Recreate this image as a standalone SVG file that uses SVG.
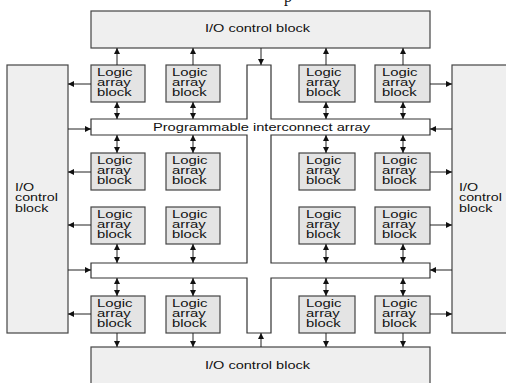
<svg xmlns="http://www.w3.org/2000/svg" width="506" height="383" viewBox="0 0 506 383">
<style>
.io{fill:#efefef;stroke:#444;stroke-width:1.2}
.lab{fill:#e4e4e4;stroke:#444;stroke-width:1.2}
.pia{fill:#ffffff;stroke:#333;stroke-width:1.2}
.t{font-family:"Liberation Sans",Arial,sans-serif;font-size:11px;fill:#111}
.c line{stroke:#222;stroke-width:1}
.one{marker-end:url(#ah)}
.two{marker-start:url(#ah);marker-end:url(#ah)}
</style>
<defs>
<marker id="ah" markerUnits="userSpaceOnUse" markerWidth="6" markerHeight="6" refX="6" refY="3" orient="auto-start-reverse">
<path d="M0,0 L6,3 L0,6 z" fill="#111"/>
</marker>
</defs>
<rect width="506" height="383" fill="#ffffff"/>
<text x="284" y="2" style="font-family:'Liberation Serif',serif;font-size:16px;fill:#111">p</text>

<g id="io-top"><rect class="io" x="91" y="11" width="339" height="37"/><text class="t" x="205" y="32" textLength="105" lengthAdjust="spacingAndGlyphs">I/O control block</text></g>
<g id="io-bottom"><rect class="io" x="91" y="347" width="339" height="45"/><text class="t" x="205" y="369" textLength="105" lengthAdjust="spacingAndGlyphs">I/O control block</text></g>
<g id="io-left"><rect class="io" x="7" y="65" width="61" height="268"/>
<text class="t" transform="translate(15,0) scale(1.3,1)"><tspan x="0" y="191">I/O</tspan><tspan x="0" y="201.5">control</tspan><tspan x="0" y="212">block</tspan></text></g>
<g id="io-right"><rect class="io" x="452" y="65" width="70" height="268"/>
<text class="t" transform="translate(459,0) scale(1.3,1)"><tspan x="0" y="191">I/O</tspan><tspan x="0" y="201.5">control</tspan><tspan x="0" y="212">block</tspan></text></g>

<g id="pia"><path class="pia" d="M247,65 H271 V119 H430 V135 H271 V263 H430 V278 H271 V333 H247 V278 H91 V263 H247 V135 H91 V119 H247 Z"/>
<text class="t" x="153" y="131" textLength="217" lengthAdjust="spacingAndGlyphs">Programmable interconnect array</text></g>

<g id="lab-1-1"><rect class="lab" x="91" y="65" width="54" height="37"/><text class="t" transform="translate(97,65) scale(1.35,1)"><tspan x="0" y="11">Logic</tspan><tspan x="0" y="21">array</tspan><tspan x="0" y="31">block</tspan></text></g>
<g id="lab-1-2"><rect class="lab" x="166" y="65" width="54" height="37"/><text class="t" transform="translate(172,65) scale(1.35,1)"><tspan x="0" y="11">Logic</tspan><tspan x="0" y="21">array</tspan><tspan x="0" y="31">block</tspan></text></g>
<g id="lab-1-3"><rect class="lab" x="299" y="65" width="56" height="37"/><text class="t" transform="translate(306,65) scale(1.35,1)"><tspan x="0" y="11">Logic</tspan><tspan x="0" y="21">array</tspan><tspan x="0" y="31">block</tspan></text></g>
<g id="lab-1-4"><rect class="lab" x="375" y="65" width="55" height="37"/><text class="t" transform="translate(382,65) scale(1.35,1)"><tspan x="0" y="11">Logic</tspan><tspan x="0" y="21">array</tspan><tspan x="0" y="31">block</tspan></text></g>

<g id="lab-2-1"><rect class="lab" x="91" y="153" width="54" height="37"/><text class="t" transform="translate(97,153) scale(1.35,1)"><tspan x="0" y="11">Logic</tspan><tspan x="0" y="21">array</tspan><tspan x="0" y="31">block</tspan></text></g>
<g id="lab-2-2"><rect class="lab" x="166" y="153" width="54" height="37"/><text class="t" transform="translate(172,153) scale(1.35,1)"><tspan x="0" y="11">Logic</tspan><tspan x="0" y="21">array</tspan><tspan x="0" y="31">block</tspan></text></g>
<g id="lab-2-3"><rect class="lab" x="299" y="153" width="56" height="37"/><text class="t" transform="translate(306,153) scale(1.35,1)"><tspan x="0" y="11">Logic</tspan><tspan x="0" y="21">array</tspan><tspan x="0" y="31">block</tspan></text></g>
<g id="lab-2-4"><rect class="lab" x="375" y="153" width="55" height="37"/><text class="t" transform="translate(382,153) scale(1.35,1)"><tspan x="0" y="11">Logic</tspan><tspan x="0" y="21">array</tspan><tspan x="0" y="31">block</tspan></text></g>

<g id="lab-3-1"><rect class="lab" x="91" y="207" width="54" height="37"/><text class="t" transform="translate(97,207) scale(1.35,1)"><tspan x="0" y="11">Logic</tspan><tspan x="0" y="21">array</tspan><tspan x="0" y="31">block</tspan></text></g>
<g id="lab-3-2"><rect class="lab" x="166" y="207" width="54" height="37"/><text class="t" transform="translate(172,207) scale(1.35,1)"><tspan x="0" y="11">Logic</tspan><tspan x="0" y="21">array</tspan><tspan x="0" y="31">block</tspan></text></g>
<g id="lab-3-3"><rect class="lab" x="299" y="207" width="56" height="37"/><text class="t" transform="translate(306,207) scale(1.35,1)"><tspan x="0" y="11">Logic</tspan><tspan x="0" y="21">array</tspan><tspan x="0" y="31">block</tspan></text></g>
<g id="lab-3-4"><rect class="lab" x="375" y="207" width="55" height="37"/><text class="t" transform="translate(382,207) scale(1.35,1)"><tspan x="0" y="11">Logic</tspan><tspan x="0" y="21">array</tspan><tspan x="0" y="31">block</tspan></text></g>

<g id="lab-4-1"><rect class="lab" x="91" y="296" width="54" height="37"/><text class="t" transform="translate(97,296) scale(1.35,1)"><tspan x="0" y="11">Logic</tspan><tspan x="0" y="21">array</tspan><tspan x="0" y="31">block</tspan></text></g>
<g id="lab-4-2"><rect class="lab" x="166" y="296" width="54" height="37"/><text class="t" transform="translate(172,296) scale(1.35,1)"><tspan x="0" y="11">Logic</tspan><tspan x="0" y="21">array</tspan><tspan x="0" y="31">block</tspan></text></g>
<g id="lab-4-3"><rect class="lab" x="299" y="296" width="56" height="37"/><text class="t" transform="translate(306,296) scale(1.35,1)"><tspan x="0" y="11">Logic</tspan><tspan x="0" y="21">array</tspan><tspan x="0" y="31">block</tspan></text></g>
<g id="lab-4-4"><rect class="lab" x="375" y="296" width="55" height="37"/><text class="t" transform="translate(382,296) scale(1.35,1)"><tspan x="0" y="11">Logic</tspan><tspan x="0" y="21">array</tspan><tspan x="0" y="31">block</tspan></text></g>

<g id="connectors" class="c">
<line class="one" x1="117" y1="65" x2="117" y2="48"/>
<line class="one" x1="193" y1="65" x2="193" y2="48"/>
<line class="one" x1="326" y1="65" x2="326" y2="48"/>
<line class="one" x1="403" y1="65" x2="403" y2="48"/>
<line class="one" x1="261" y1="48" x2="261" y2="65"/>
<line class="one" x1="261" y1="347" x2="261" y2="333"/>
<line class="two" x1="117" y1="102" x2="117" y2="119"/>
<line class="two" x1="193" y1="102" x2="193" y2="119"/>
<line class="two" x1="326" y1="102" x2="326" y2="119"/>
<line class="two" x1="403" y1="102" x2="403" y2="119"/>
<line class="two" x1="117" y1="135" x2="117" y2="153"/>
<line class="two" x1="193" y1="135" x2="193" y2="153"/>
<line class="two" x1="326" y1="135" x2="326" y2="153"/>
<line class="two" x1="403" y1="135" x2="403" y2="153"/>
<line class="two" x1="117" y1="244" x2="117" y2="263"/>
<line class="two" x1="193" y1="244" x2="193" y2="263"/>
<line class="two" x1="326" y1="244" x2="326" y2="263"/>
<line class="two" x1="403" y1="244" x2="403" y2="263"/>
<line class="two" x1="117" y1="278" x2="117" y2="296"/>
<line class="two" x1="193" y1="278" x2="193" y2="296"/>
<line class="two" x1="326" y1="278" x2="326" y2="296"/>
<line class="two" x1="403" y1="278" x2="403" y2="296"/>
<line class="one" x1="117" y1="333" x2="117" y2="347"/>
<line class="one" x1="193" y1="333" x2="193" y2="347"/>
<line class="one" x1="326" y1="333" x2="326" y2="347"/>
<line class="one" x1="403" y1="333" x2="403" y2="347"/>
<line class="one" x1="91" y1="84" x2="68" y2="84"/>
<line class="one" x1="91" y1="172" x2="68" y2="172"/>
<line class="one" x1="91" y1="225" x2="68" y2="225"/>
<line class="one" x1="91" y1="314" x2="68" y2="314"/>
<line class="one" x1="68" y1="129" x2="91" y2="129"/>
<line class="one" x1="68" y1="270" x2="91" y2="270"/>
<line class="one" x1="430" y1="84" x2="452" y2="84"/>
<line class="one" x1="430" y1="172" x2="452" y2="172"/>
<line class="one" x1="430" y1="225" x2="452" y2="225"/>
<line class="one" x1="430" y1="314" x2="452" y2="314"/>
<line class="one" x1="452" y1="129" x2="430" y2="129"/>
<line class="one" x1="452" y1="270" x2="430" y2="270"/>
</g>
</svg>
